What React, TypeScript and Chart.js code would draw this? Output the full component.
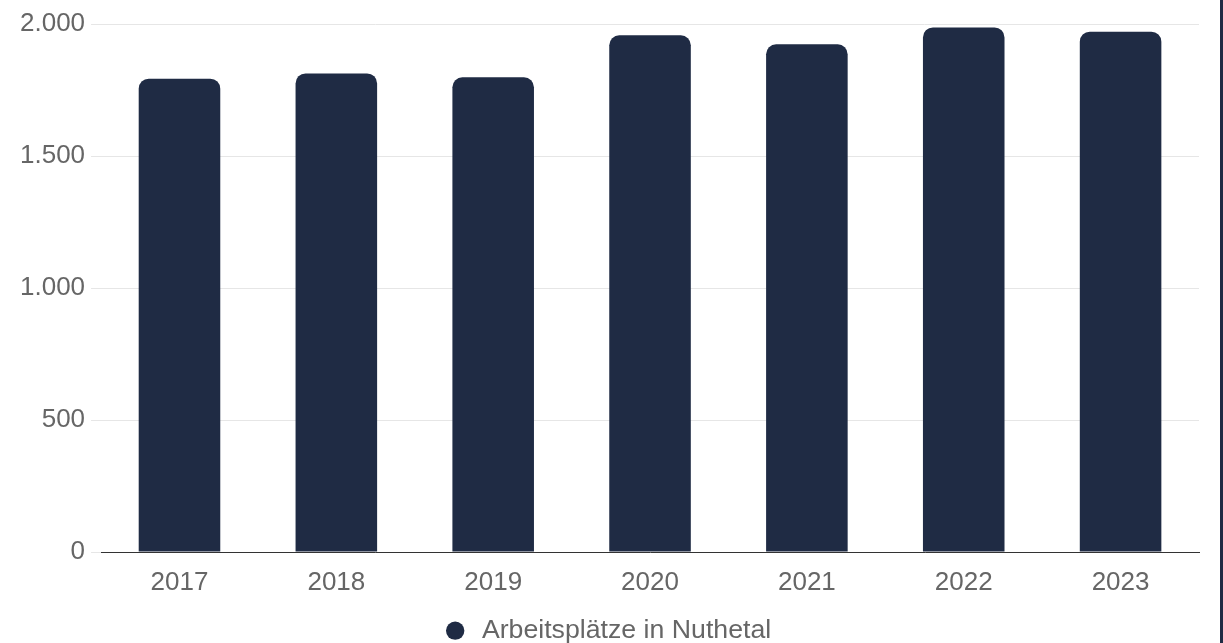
import React, { useEffect, useRef } from "react";
import { Chart, registerables } from "chart.js";

Chart.register(...registerables);

const categories = ["2017", "2018", "2019", "2020", "2021", "2022", "2023"];
const seriesLabel = "Arbeitsplätze in Nuthetal";
const seriesValues = [1793, 1813, 1798, 1957, 1923, 1987, 1971];
const yTicks = [0, 500, 1000, 1500, 2000];

const FONT = "'Liberation Sans', Arial, sans-serif";

export default function App() {
  const ref = useRef<HTMLCanvasElement | null>(null);

  useEffect(() => {
    document.body.style.margin = "0";
    const ctx = ref.current;
    if (!ctx) return;
    const chart = new Chart(ctx, {
      type: "bar",
      data: {
        labels: categories,
        datasets: [
          {
            label: seriesLabel,
            data: seriesValues,
            backgroundColor: "#1f2b44",
            borderRadius: 10,
            barPercentage: 0.52,
            categoryPercentage: 1,
          },
        ],
      },
      options: {
        animation: false,
        responsive: true,
        maintainAspectRatio: false,
        layout: { padding: { top: 24, right: 21, left: 14, bottom: -11 } },
        scales: {
          x: {
            grid: { display: false },
            border: { display: true, color: "#333", width: 1 },
            ticks: {
              color: "#666",
              font: { family: FONT, size: 26 },
              padding: 7,
            },
          },
          y: {
            min: yTicks[0],
            max: yTicks[yTicks.length - 1],
            afterBuildTicks: (axis: any) => {
              axis.ticks = yTicks.map((v) => ({ value: v }));
            },
            grid: { color: "#e6e6e6", tickLength: 10 },
            border: { display: false },
            ticks: {
              color: "#666",
              font: { family: FONT, size: 26 },
              padding: 6,
              callback: (v: any) => Number(v).toLocaleString("de-DE"),
            },
          },
        },
        plugins: {
          legend: {
            position: "bottom",
            labels: {
              color: "#666",
              font: { family: FONT, size: 26.7 },
              usePointStyle: true,
              pointStyle: "circle",
              boxWidth: 30,
              boxHeight: 13,
              padding: 12,
            },
          },
          tooltip: { enabled: false },
        },
      },
    });
    return () => chart.destroy();
  }, []);

  return (
    <div
      style={{
        position: "fixed",
        left: 0,
        top: 0,
        width: 1223,
        height: 643,
        boxSizing: "border-box",
        borderRight: "3px solid #1f2b44",
        background: "#fff",
      }}
    >
      <canvas ref={ref} />
    </div>
  );
}
